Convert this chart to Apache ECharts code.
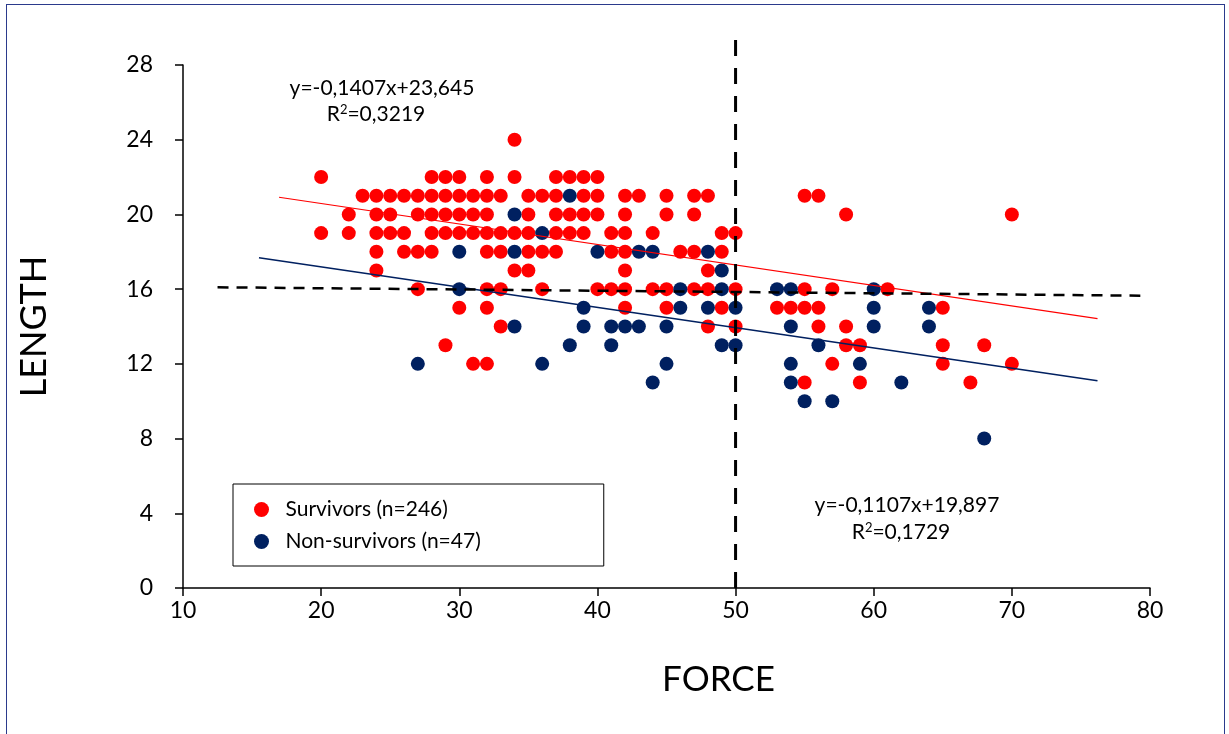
<!DOCTYPE html>
<html>
<head>
<meta charset="utf-8">
<script src="https://cdn.jsdelivr.net/npm/echarts@6/dist/echarts.min.js"></script>
<style>
html,body{margin:0;padding:0;background:#fff;}
#frame{position:absolute;left:6px;top:4px;width:1219px;height:740px;border:1px solid #2b3a8c;box-sizing:border-box;}
#chart{position:absolute;left:0;top:0;width:1229px;height:734px;}
</style>
</head>
<body>
<div id="frame"></div>
<div id="chart"></div>
<script>
// ---- data (FORCE, LENGTH) ----
const survivorPoints = [
  [34,24],
  [20,22],[28,22],[29,22],[30,22],[32,22],[34,22],[37,22],[38,22],[39,22],[40,22],
  [23,21],[24,21],[25,21],[26,21],[27,21],[28,21],[29,21],[30,21],[31,21],[32,21],[33,21],[35,21],[36,21],[37,21],[39,21],[40,21],[42,21],[43,21],[45,21],[47,21],[48,21],[55,21],[56,21],
  [22,20],[24,20],[25,20],[27,20],[28,20],[29,20],[30,20],[31,20],[32,20],[35,20],[37,20],[38,20],[39,20],[40,20],[42,20],[45,20],[47,20],[58,20],[70,20],
  [20,19],[22,19],[24,19],[25,19],[26,19],[28,19],[29,19],[30,19],[31,19],[32,19],[33,19],[34,19],[35,19],[37,19],[38,19],[39,19],[41,19],[42,19],[44,19],[49,19],[50,19],
  [24,18],[26,18],[27,18],[28,18],[32,18],[33,18],[35,18],[36,18],[37,18],[41,18],[42,18],[46,18],[47,18],[49,18],
  [24,17],[34,17],[35,17],[42,17],[48,17],
  [27,16],[32,16],[33,16],[36,16],[40,16],[41,16],[42,16],[44,16],[45,16],[47,16],[48,16],[50,16],[55,16],[57,16],[61,16],
  [30,15],[32,15],[42,15],[45,15],[49,15],[53,15],[54,15],[55,15],[56,15],[65,15],
  [33,14],[48,14],[50,14],[56,14],[58,14],
  [29,13],[58,13],[59,13],[65,13],[68,13],
  [31,12],[32,12],[57,12],[65,12],[70,12],
  [55,11],[59,11],[67,11]
];
const nonSurvivorPoints = [
  [38,21],
  [34,20],
  [36,19],
  [30,18],[34,18],[40,18],[43,18],[44,18],[48,18],
  [49,17],
  [30,16],[46,16],[49,16],[53,16],[54,16],[60,16],
  [39,15],[46,15],[48,15],[50,15],[60,15],[64,15],
  [34,14],[39,14],[41,14],[42,14],[43,14],[45,14],[54,14],[60,14],[64,14],
  [38,13],[41,13],[49,13],[50,13],[56,13],
  [27,12],[36,12],[45,12],[54,12],[59,12],
  [44,11],[54,11],[62,11],
  [55,10],[57,10],
  [68,8]
];
const survivorTrend = [[16.95,20.92],[76.2,14.42]];
const nonSurvivorTrend = [[15.5,17.68],[76.2,11.1]];
const lengthCutoff = [[12.5,16.1],[79.3,15.65]];
const forceCutoff = [[50,0],[50,29.8]];
const seriesNames = ['Survivors (n=246)','Non-survivors (n=47)'];
const equationTop = ['y=-0,1407x+23,645','R','2','=0,3219'];
const equationBottom = ['y=-0,1107x+19,897','R','2','=0,1729'];

const RED = '#ff0000', NAVY = '#002060';
const FONT = 'Lato';

function rSquared(parts){
  return '{n|' + parts[1] + '}{s|' + parts[2] + '}{n|' + parts[3] + '}';
}
const richStyle = {
  n:{fontFamily:FONT,fontSize:21,fill:'#000'},
  s:{fontFamily:FONT,fontSize:13,fill:'#000',verticalAlign:'top',padding:[0,0,8,0]}
};

const chart = echarts.init(document.getElementById('chart'), null, {renderer:'canvas'});
chart.setOption({
  animation:false,
  backgroundColor:'transparent',
  textStyle:{fontFamily:FONT,color:'#000'},
  grid:{left:183,right:79,top:65,bottom:146,containLabel:false},
  legend:{
    data:seriesNames.map(n=>({name:n,icon:'circle'})),
    orient:'vertical',left:233,top:484,
    itemWidth:18,itemHeight:15,itemGap:11,
    padding:[15,123,14,21],
    borderColor:'#000',borderWidth:1,
    textStyle:{fontFamily:FONT,fontSize:21,color:'#000',padding:[0,0,0,10]}
  },
  xAxis:{
    type:'value',min:10,max:80,interval:10,
    name:'FORCE',nameLocation:'middle',nameGap:74,
    nameTextStyle:{fontFamily:FONT,fontSize:35,color:'#000',padding:[0,0,0,104]},
    axisLine:{lineStyle:{color:'#000',width:1.5}},
    axisTick:{show:true,length:8,lineStyle:{color:'#000',width:1.5}},
    axisLabel:{fontFamily:FONT,fontSize:23,color:'#000',margin:11},
    splitLine:{show:false}
  },
  yAxis:{
    type:'value',min:0,max:28,interval:4,
    name:'LENGTH',nameLocation:'middle',nameGap:131,nameRotate:90,
    nameTextStyle:{fontFamily:FONT,fontSize:36,color:'#000'},
    axisLine:{show:true,lineStyle:{color:'#000',width:1.5}},
    axisTick:{show:true,length:8,lineStyle:{color:'#000',width:1.5}},
    axisLabel:{fontFamily:FONT,fontSize:23,color:'#000',margin:30},
    splitLine:{show:false}
  },
  graphic:[
    {type:'text',x:382,y:88,style:{text:equationTop[0],font:'21px '+FONT,fill:'#000',textAlign:'center',textVerticalAlign:'middle'}},
    {type:'text',x:376,y:114,style:{text:rSquared(equationTop),rich:richStyle,textAlign:'center',textVerticalAlign:'middle'}},
    {type:'text',x:907,y:505,style:{text:equationBottom[0],font:'21px '+FONT,fill:'#000',textAlign:'center',textVerticalAlign:'middle'}},
    {type:'text',x:901,y:532,style:{text:rSquared(equationBottom),rich:richStyle,textAlign:'center',textVerticalAlign:'middle'}}
  ],
  series:[
    {name:seriesNames[0],type:'scatter',data:survivorPoints,symbol:'circle',symbolSize:14,
     itemStyle:{color:RED,opacity:1},z:2},
    {name:seriesNames[1],type:'scatter',data:nonSurvivorPoints,symbol:'circle',symbolSize:14,
     itemStyle:{color:NAVY,opacity:1},z:3},
    {name:'survivorTrend',type:'line',data:survivorTrend,symbol:'none',lineStyle:{color:RED,width:1.2},z:4,silent:true},
    {name:'nonSurvivorTrend',type:'line',data:nonSurvivorTrend,symbol:'none',lineStyle:{color:NAVY,width:1.5},z:4,silent:true},
    {name:'lengthCutoff',type:'line',data:lengthCutoff,symbol:'none',lineStyle:{color:'#000',width:2.5,type:[11,8]},z:5,silent:true},
    {name:'forceCutoff',type:'line',data:forceCutoff,symbol:'none',clip:false,lineStyle:{color:'#000',width:3,type:[16,12]},z:5,silent:true}
  ]
});
</script>
</body>
</html>
